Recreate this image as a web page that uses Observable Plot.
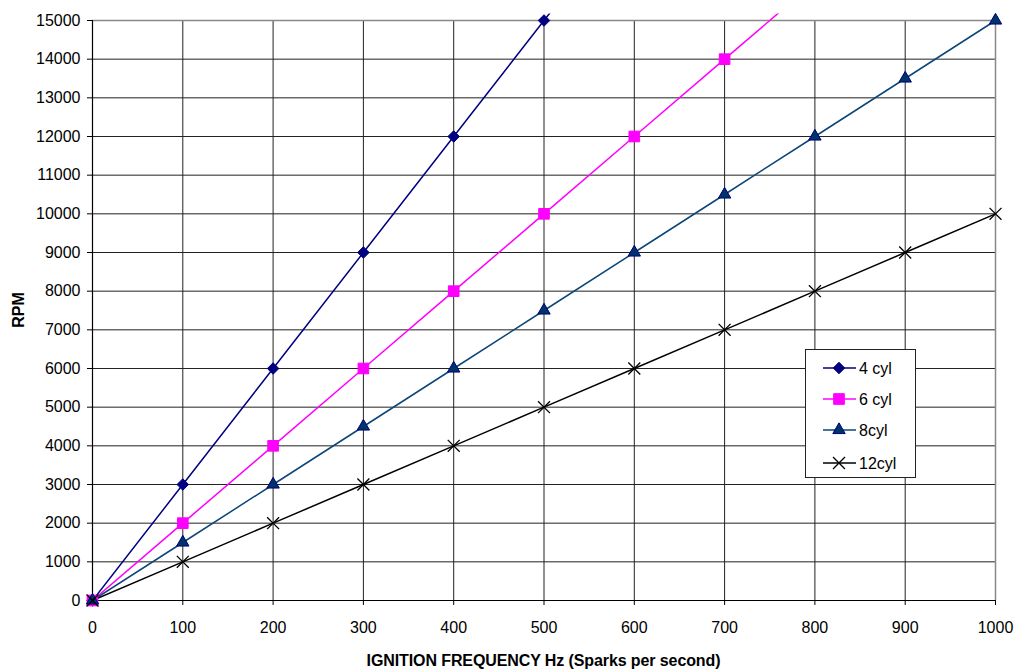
<!DOCTYPE html>
<html><head><meta charset="utf-8">
<script src="https://cdn.jsdelivr.net/npm/d3@7"></script>
<script src="https://cdn.jsdelivr.net/npm/@observablehq/plot@0.6"></script>
<style>
html,body{margin:0;padding:0;background:#fff;}
#chart{position:relative;width:1017px;height:671px;font-family:"Liberation Sans",Arial,sans-serif;}
</style></head>
<body><div id="chart"></div>
<script>
const hz = [0,100,200,300,400,500,600,700,800,900,1000];
const cyl4 = [0,3000,6000,9000,12000,15000,18000,21000,24000,27000,30000];
const cyl6 = [0,2000,4000,6000,8000,10000,12000,14000,16000,18000,20000];
const cyl8 = [0,1500,3000,4500,6000,7500,9000,10500,12000,13500,15000];
const cyl12 = [0,1000,2000,3000,4000,5000,6000,7000,8000,9000,10000];
const seriesNames = ["4 cyl","6 cyl","8cyl","12cyl"];
const xTicks = [0,100,200,300,400,500,600,700,800,900,1000];
const yTicks = [0,1000,2000,3000,4000,5000,6000,7000,8000,9000,10000,11000,12000,13000,14000,15000];
const xTitle = "IGNITION FREQUENCY Hz (Sparks per second)";
const yTitle = "RPM";

const styles = [
  {line:"#000080", fill:"#000080", stroke:"#000080", symbol:"diamond2", r:5.2},
  {line:"#ff00ff", fill:"#ff00ff", stroke:"#ff00ff", symbol:"square", r:6},
  {line:"#0d4677", fill:"#003366", stroke:"#000080", symbol:"triangle", r:4.6},
  {line:"#000000", fill:"none", stroke:"#000000", symbol:"times", r:5.5}
];
const values = [cyl4, cyl6, cyl8, cyl12];
const data = [];
values.forEach((arr,i)=>arr.forEach((v,j)=>data.push({s:seriesNames[i], i, x:hz[j], y:v})));

const marks = [
  Plot.gridX(xTicks,{stroke:"#222",strokeOpacity:1,strokeWidth:1}),
  Plot.gridY(yTicks,{stroke:"#222",strokeOpacity:1,strokeWidth:1}),
  Plot.ruleY([15000],{stroke:"#888",strokeWidth:1.5}),
  Plot.ruleX([1000],{stroke:"#888",strokeWidth:1.5}),
  Plot.ruleX([0],{stroke:"#000",strokeWidth:1.2}),
  Plot.ruleY([0],{stroke:"#000",strokeWidth:1.2}),
  Plot.axisX({ticks:xTicks,tickSize:5,tickPadding:16,fontSize:16,label:null,stroke:"#000",tickFormat:d=>String(d)}),
  Plot.axisY({ticks:yTicks,tickSize:5,tickPadding:7,fontSize:16,label:null,stroke:"#000",tickFormat:d=>String(d)})
];
for (let i=0;i<4;i++){
  const d = data.filter(p=>p.i===i);
  marks.push(Plot.line(d,{x:"x",y:"y",stroke:styles[i].line,strokeWidth:1.5}));
}
for (let i=0;i<4;i++){
  const d = data.filter(p=>p.i===i && p.y<=15000);
  const st = styles[i];
  marks.push(Plot.dot(d,{x:"x",y:"y",symbol:()=>st.symbol,r:st.r,fill:st.fill,stroke:st.stroke,strokeWidth:st.fill==="none"?1.3:1}));
}

const plot = Plot.plot({
  width:1017, height:671,
  marginTop:20, marginRight:22, marginBottom:71, marginLeft:92,
  style:{fontFamily:"'Liberation Sans', Arial, sans-serif", fontSize:"16px", color:"#000", background:"#fff"},
  x:{domain:[0,1000]},
  y:{domain:[0,15000]},
  marks
});
document.getElementById("chart").appendChild(plot);

const svg = d3.select(plot);
const xs = plot.scale("x"), ys = plot.scale("y");
const X0 = xs.apply(0), X1 = xs.apply(1000), Y0 = ys.apply(0), Y1 = ys.apply(15000);
svg.append("defs").append("clipPath").attr("id","plotclip")
  .append("rect").attr("x",X0).attr("y",Y1-7).attr("width",X1-X0).attr("height",Y0-Y1+7);
svg.selectAll("g[aria-label='line']").attr("clip-path","url(#plotclip)");

// axis titles
svg.append("text").attr("x",(X0+X1)/2).attr("y",660).attr("dy","0.35em")
  .attr("text-anchor","middle").attr("font-weight","bold").attr("font-size",16)
  .attr("letter-spacing","-0.1px").text(xTitle);
svg.append("text").attr("transform","translate(18,310) rotate(-90)").attr("dy","0.35em")
  .attr("text-anchor","middle").attr("font-weight","bold").attr("font-size",16)
  .text(yTitle);

// legend
const lg = svg.append("g");
lg.append("rect").attr("x",805.5).attr("y",349.5).attr("width",110).attr("height",128)
  .attr("fill","#fff").attr("stroke","#222").attr("stroke-width",1);
const rowY = [368,399,430,463];
const symMap = {diamond2:d3.symbolDiamond2, square:d3.symbolSquare, triangle:d3.symbolTriangle, times:d3.symbolTimes};
seriesNames.forEach((name,i)=>{
  const st = styles[i], y = rowY[i];
  lg.append("line").attr("x1",823).attr("x2",856).attr("y1",y).attr("y2",y)
    .attr("stroke",st.line).attr("stroke-width",1.5);
  lg.append("path").attr("transform",`translate(839,${y})`)
    .attr("d",d3.symbol(symMap[st.symbol], Math.PI*st.r*st.r)())
    .attr("fill",st.fill).attr("stroke",st.stroke).attr("stroke-width",st.fill==="none"?1.3:1);
  lg.append("text").attr("x",859).attr("y",y).attr("dy","0.35em").attr("font-size",16)
    .attr("text-anchor","start").text(name);
});
</script>
</body></html>
